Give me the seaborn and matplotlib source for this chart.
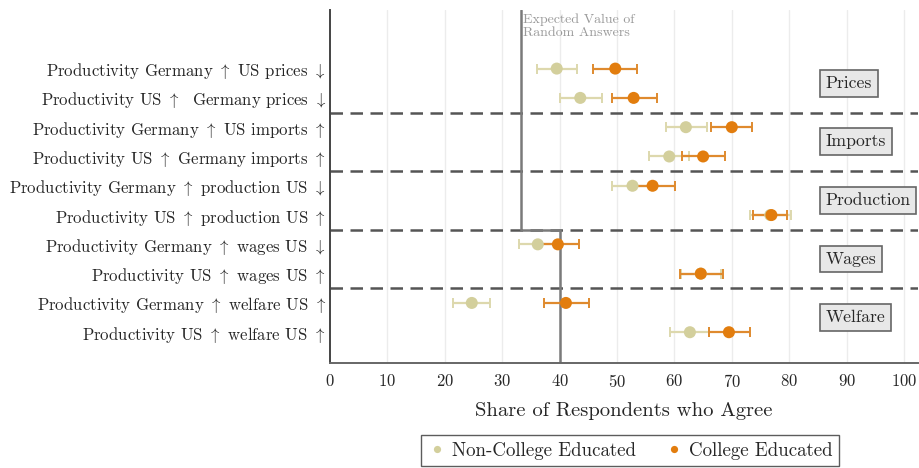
import numpy as np
import pandas as pd
import matplotlib
matplotlib.use("Agg")
import matplotlib.pyplot as plt
import seaborn as sns

UP, DOWN = r"$\uparrow$", r"$\downarrow$"

# Statements shown on the y axis, top to bottom
statements = [
    f"Productivity Germany {UP} US prices {DOWN}",
    f"Productivity US {UP}  Germany prices {DOWN}",
    f"Productivity Germany {UP} US imports {UP}",
    f"Productivity US {UP} Germany imports {UP}",
    f"Productivity Germany {UP} production US {DOWN}",
    f"Productivity US {UP} production US {UP}",
    f"Productivity Germany {UP} wages US {DOWN}",
    f"Productivity US {UP} wages US {UP}",
    f"Productivity Germany {UP} welfare US {UP}",
    f"Productivity US {UP} welfare US {UP}",
]
topics = ["Prices", "Imports", "Production", "Wages", "Welfare"]
# Share of random answers expected to agree, per topic
expected_value = [33.3, 33.3, 33.3, 40.0, 40.0]

# Share agreeing (%) with confidence bounds
noncollege_mean = [39.5, 43.6, 62.0, 59.1, 52.7, 76.7, 36.2, 64.6, 24.7, 62.7]
noncollege_low = [36.0, 40.1, 58.5, 55.6, 49.1, 73.1, 33.0, 61.2, 21.5, 59.2]
noncollege_high = [43.0, 47.3, 65.7, 62.6, 56.3, 80.4, 39.4, 68.2, 27.9, 66.1]
college_mean = [49.7, 52.9, 70.0, 65.0, 56.2, 76.9, 39.7, 64.6, 41.1, 69.5]
college_low = [45.8, 49.1, 66.3, 61.4, 52.4, 73.7, 36.0, 61.0, 37.2, 66.1]
college_high = [53.4, 56.9, 73.6, 68.8, 60.1, 79.6, 43.4, 68.5, 45.1, 73.2]

groups = ["Non-College Educated", "College Educated"]
colors = {"Non-College Educated": "#d3cf9c", "College Educated": "#e27d0e"}
err_colors = {"Non-College Educated": "#ddd8ad", "College Educated": "#df8a2e"}

rows = []
for i, s in enumerate(statements):
    rows.append(dict(statement=s, pos=i, group=groups[0], share=noncollege_mean[i],
                     low=noncollege_low[i], high=noncollege_high[i]))
    rows.append(dict(statement=s, pos=i, group=groups[1], share=college_mean[i],
                     low=college_low[i], high=college_high[i]))
df = pd.DataFrame(rows)

sns.set_style("white")
plt.rcParams["font.family"] = ["cmr10", "DejaVu Serif"]
plt.rcParams["axes.formatter.use_mathtext"] = True
plt.rcParams["mathtext.fontset"] = "cm"

fig = plt.figure(figsize=(9.2, 4.68), dpi=100)
ax = fig.add_axes([0.3587, 0.2244, 0.6395, 0.7542])

# light vertical grid
for gx in range(10, 101, 10):
    ax.axvline(gx, color="#ececec", lw=1.0, zorder=0)

# group separators
for b in range(1, len(topics)):
    ax.axhline(2 * b - 0.5, color="#555555", lw=1.8, ls=(0, (5, 3)), zorder=1)

# expected value of random answers, stepped by topic
ylo, yhi = -2.0, 10.05
sx, sy = [], []
for g, ev in enumerate(expected_value):
    top = ylo if g == 0 else 2 * g - 0.5
    bot = yhi if g == len(topics) - 1 else 2 * g + 1.5
    sx += [ev, ev]
    sy += [top, bot]
ax.plot(sx, sy, color="#7a7a7a", lw=1.8, zorder=2, solid_joinstyle="miter")
ax.text(expected_value[0] + 0.3, -1.9, "Expected Value of\nRandom Answers",
        color="#9a9a9a", fontsize=10, va="top", ha="left", linespacing=1.15)

# error bars
for grp in groups:
    d = df[df.group == grp]
    ax.errorbar(d.share, d.pos, xerr=[d.share - d.low, d.high - d.share],
                fmt="none", ecolor=err_colors[grp], elinewidth=1.6, capsize=3.5,
                capthick=1.4, zorder=3)

sns.scatterplot(data=df, x="share", y="pos", hue="group", palette=colors,
                hue_order=groups, s=75, edgecolor="none", zorder=4, ax=ax,
                legend=True)

# topic boxes
for g, t in enumerate(topics):
    ax.text(86.3, 2 * g + 0.5, t, fontsize=12.7, ha="left", va="center",
            bbox=dict(boxstyle="square,pad=0.33", fc="#e8e8e8", ec="#666666", lw=1.2),
            zorder=5)

ax.set_xlim(0, 102.5)
ax.set_ylim(yhi, ylo)
ax.set_yticks(range(len(statements)))
ax.set_yticklabels(statements, fontsize=12.1)
ax.set_xticks(range(0, 101, 10))
ax.tick_params(axis="x", labelsize=12, length=0, pad=7)
ax.tick_params(axis="y", length=0, pad=3)
ax.set_xlabel("Share of Respondents who Agree", fontsize=14.8, labelpad=9)
ax.set_ylabel("")

for side in ["top", "right"]:
    ax.spines[side].set_visible(False)
ax.spines["left"].set_color("#444444")
ax.spines["bottom"].set_color("#666666")
ax.spines["left"].set_linewidth(1.4)
ax.spines["bottom"].set_linewidth(1.4)

handles, labels = ax.get_legend_handles_labels()
ax.legend(handles, labels, loc="upper center", bbox_to_anchor=(0.51, -0.177),
          ncol=2, frameon=True, fancybox=False, edgecolor="#333333",
          fontsize=13.6, markerscale=0.6, handletextpad=0.3, columnspacing=1.5,
          borderpad=0.35, handlelength=1.0)

fig.savefig("out.png", dpi=100)
